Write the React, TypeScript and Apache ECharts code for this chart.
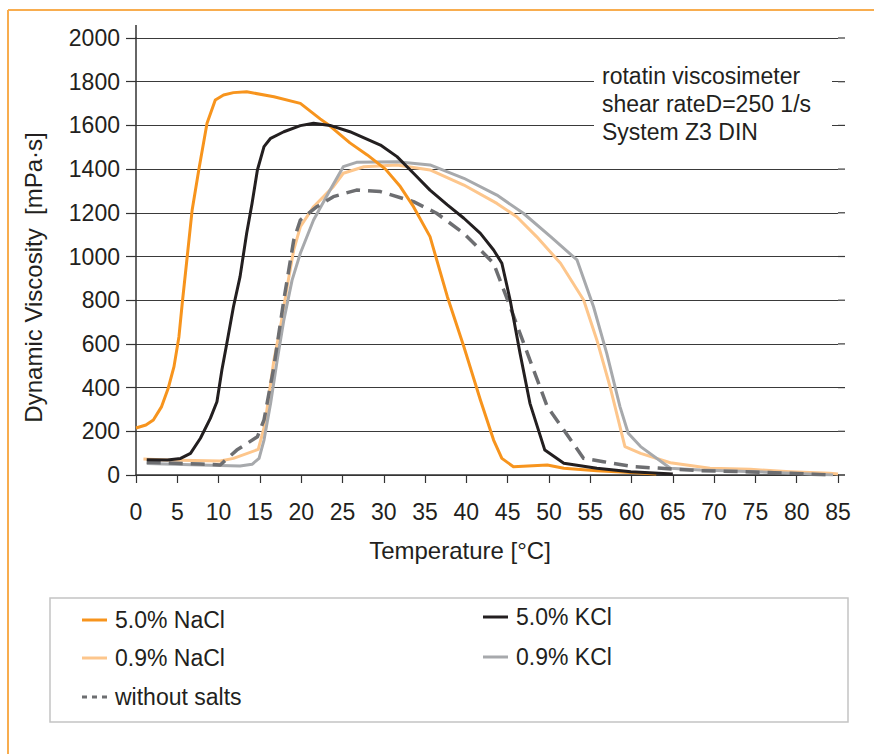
import React, { useEffect, useRef } from "react";
import * as echarts from "echarts";

const xTicks = { min: 0, max: 85, interval: 5 };
const yTicks = { min: 0, max: 2000, interval: 200 };

const seriesNames = ["5.0% NaCl", "0.9% NaCl", "without salts", "5.0% KCl", "0.9% KCl"];

const nacl50: [number, number][] = [
  [0, 215], [1.2, 229], [2.1, 252], [3.1, 313], [3.9, 397], [4.6, 496], [5.2, 633], [5.6, 786],
  [6.2, 999], [6.8, 1213], [7.6, 1396], [8.6, 1610], [9.6, 1716], [10.6, 1739], [11.8, 1750],
  [13.4, 1754], [16.7, 1731], [19.9, 1701], [22.3, 1630], [23.5, 1597], [25.9, 1520], [28, 1465],
  [30.2, 1400], [32, 1320], [33.6, 1228], [35.6, 1091], [37.7, 816], [39.7, 587], [41.7, 343],
  [43.3, 160], [44.3, 76], [45.7, 38], [49.8, 46], [51.8, 31], [55.8, 20], [59.9, 11], [63, 5],
];

const nacl09: [number, number][] = [
  [0.9, 73], [3.8, 69], [10.2, 64], [11.8, 76], [14.8, 117], [15.6, 230], [16.7, 526], [17.5, 679],
  [18.3, 862], [19.1, 1030], [19.9, 1136], [21.5, 1228], [23.9, 1320], [25.1, 1381], [27.6, 1411],
  [31.6, 1419], [35.6, 1396], [39.7, 1327], [43.7, 1243], [46.1, 1182], [48.5, 1091], [51.4, 969],
  [54.2, 801], [55.8, 618], [57.4, 404], [59.2, 130], [61.1, 99], [64.7, 56], [69.5, 31],
  [74.4, 26], [79.2, 15], [84, 8], [85, 5],
];

const noSalt: [number, number][] = [
  [1.3, 58], [7.8, 50], [10.2, 46], [12.2, 114], [14.7, 175], [15.5, 252], [16.7, 496], [17.9, 801],
  [19.1, 1075], [19.9, 1167], [21.9, 1228], [23.9, 1274], [26.7, 1304], [29.6, 1297], [33.6, 1251],
  [36.4, 1198], [39.7, 1106], [43.3, 969], [45.3, 770], [47.7, 526], [49.8, 313], [51.8, 206],
  [54.2, 76], [56.6, 61], [60.3, 38], [68.3, 20], [76.4, 12], [84.4, 0],
];

const kcl50: [number, number][] = [
  [1.3, 70], [3.8, 69], [5.4, 76], [6.6, 99], [7.8, 168], [9.0, 259], [9.8, 335], [10.4, 481],
  [11.0, 603], [11.8, 770], [12.6, 908], [13.4, 1106], [14.05, 1243], [14.7, 1396], [15.5, 1503],
  [16.3, 1541], [17.9, 1571], [19.9, 1599], [21.5, 1610], [23.5, 1600], [25.9, 1571], [29.6, 1510],
  [31.6, 1457], [33.6, 1381], [35.6, 1304], [37.7, 1236], [39.7, 1175], [41.7, 1106], [43.3, 1030],
  [44.3, 969], [45.3, 801], [46.5, 557], [47.7, 328], [49.5, 114], [51.8, 54], [55.8, 31],
  [59.9, 15], [65, 5],
];

const kcl09: [number, number][] = [
  [1.3, 53], [7.8, 46], [12.6, 41], [14.05, 49], [14.9, 76], [15.5, 160], [16.3, 328], [17.1, 526],
  [17.9, 709], [18.9, 892], [19.9, 1015], [21.5, 1167], [23.5, 1304], [25.1, 1411], [26.7, 1431],
  [31.6, 1434], [35.6, 1419], [39.7, 1358], [43.7, 1281], [46.9, 1198], [50.2, 1091], [53.4, 984],
  [55.4, 770], [57.0, 557], [58.6, 313], [59.6, 191], [61.1, 130], [64.7, 31], [68.3, 23],
  [75, 15], [84.4, 0],
];

const yGridValues = [0, 200, 400, 600, 800, 1000, 1200, 1400, 1600, 1800, 2000];

const annotationLines = ["rotatin viscosimeter", "shear rateD=250 1/s", "System Z3 DIN"];

const FONT = "'Liberation Sans', Arial, Helvetica, sans-serif";
const TEXT = "#231f20";

const colors = {
  nacl50: "#f7941d",
  nacl09: "#fdc68c",
  noSalt: "#6d6e71",
  kcl50: "#231f20",
  kcl09: "#a7a9ac",
};

export default function App() {
  const ref = useRef<HTMLDivElement>(null);
  useEffect(() => {
    if (!ref.current) return;
    const chart = echarts.init(ref.current, undefined, { renderer: "svg" });

    const line = (name: string, data: [number, number][], color: string, dashed = false, z = 2) => ({
      name,
      type: "line",
      data,
      showSymbol: false,
      symbol: "none",
      smooth: false,
      z,
      lineStyle: { color, width: dashed ? 3.5 : 3, type: dashed ? [14, 8] : "solid", cap: "butt", join: "round" },
      itemStyle: { color },
    });

    const legendItems = [
      { name: seriesNames[0], color: colors.nacl50, x: 82, y: 620, dashed: false },
      { name: seriesNames[1], color: colors.nacl09, x: 82, y: 658, dashed: false },
      { name: seriesNames[2], color: colors.noSalt, x: 82, y: 697, dashed: true },
      { name: seriesNames[3], color: colors.kcl50, x: 483, y: 617, dashed: false },
      { name: seriesNames[4], color: colors.kcl09, x: 483, y: 657, dashed: false },
    ];

    const baseGraphic: any[] = [
      // frame
      { type: "line", shape: { x1: 8, y1: 10, x2: 874, y2: 10 }, style: { stroke: "#f8ad4f", lineWidth: 2 }, z: 100 },
      { type: "line", shape: { x1: 8, y1: 10, x2: 8, y2: 754 }, style: { stroke: "#f8ad4f", lineWidth: 2 }, z: 100 },
      // legend box
      { type: "rect", shape: { x: 50, y: 598, width: 798, height: 124 }, style: { fill: "none", stroke: "#c4c4c4", lineWidth: 1.5 }, z: 100 },
      ...legendItems.flatMap((it) => [
        {
          type: "line",
          shape: { x1: it.x, y1: it.y, x2: it.x + 25, y2: it.y },
          style: { stroke: it.color, lineWidth: 3, lineDash: it.dashed ? [5, 5] : null },
          z: 101,
        },
        {
          type: "text",
          style: { text: it.name, x: it.x + 33, y: it.y, fill: TEXT, font: `23px ${FONT}`, verticalAlign: "middle" },
          z: 101,
        },
      ]),
    ];

    chart.setOption({
      animation: false,
      backgroundColor: "#ffffff",
      grid: { left: 136, right: 36, top: 38, bottom: 279, containLabel: false },
      xAxis: {
        type: "value",
        min: xTicks.min,
        max: xTicks.max,
        interval: xTicks.interval,
        name: "Temperature [°C]",
        nameLocation: "middle",
        nameGap: 63,
        nameTextStyle: { fontSize: 24, color: TEXT, fontFamily: FONT, padding: [0, 54, 0, 0] },
        axisLine: { show: true, lineStyle: { color: "#333333", width: 1.5 } },
        axisTick: { show: true, inside: false, length: 8, lineStyle: { color: "#333333", width: 1.2 } },
        axisLabel: { fontSize: 23, color: TEXT, fontFamily: FONT, margin: 25, formatter: (v: number) => String(v) },
        splitLine: { show: false },
      },
      yAxis: {
        type: "value",
        min: yTicks.min,
        max: yTicks.max,
        interval: yTicks.interval,
        name: "Dynamic Viscosity  [mPa·s]",
        nameLocation: "middle",
        nameGap: 91,
        nameRotate: 90,
        nameTextStyle: { fontSize: 24, color: TEXT, fontFamily: FONT, padding: [0, 42, 0, 0] },
        axisLine: { show: true, lineStyle: { color: "#333333", width: 1.5 } },
        axisTick: { show: true, inside: false, length: 10, lineStyle: { color: "#333333", width: 1.2 } },
        axisLabel: { fontSize: 23, color: TEXT, fontFamily: FONT, margin: 16, formatter: (v: number) => String(v) },
        splitLine: { show: true, lineStyle: { color: "#3a3a3a", width: 1.2 } },
      },
      series: [
        line(seriesNames[1], nacl09, colors.nacl09, false, 2),
        line(seriesNames[4], kcl09, colors.kcl09, false, 3),
        line(seriesNames[2], noSalt, colors.noSalt, true, 4),
        line(seriesNames[0], nacl50, colors.nacl50, false, 5),
        line(seriesNames[3], kcl50, colors.kcl50, false, 6),
      ],
      graphic: baseGraphic,
    });

    // extend grid lines and axes slightly beyond the plot, as in the original
    const ext: any[] = [];
    const [xr] = chart.convertToPixel({ gridIndex: 0 }, [xTicks.max, 0]) as number[];
    const [xl, yTop] = chart.convertToPixel({ gridIndex: 0 }, [xTicks.min, yTicks.max]) as number[];
    yGridValues.forEach((v) => {
      const p = chart.convertToPixel({ gridIndex: 0 }, [xTicks.max, v]) as number[];
      ext.push({
        type: "line",
        shape: { x1: xr, y1: p[1], x2: xr + 7, y2: p[1] },
        style: { stroke: v === 0 ? "#333333" : "#3a3a3a", lineWidth: v === 0 ? 1.5 : 1.2 },
        z: 50,
      });
    });
    ext.push({
      type: "line",
      shape: { x1: xl, y1: yTop - 13, x2: xl, y2: yTop },
      style: { stroke: "#333333", lineWidth: 1.5 },
      z: 50,
    });
    // annotation with white background masking the grid lines
    ext.push({ type: "rect", shape: { x: 594, y: 58, width: 238, height: 92 }, style: { fill: "#ffffff" }, z: 100 });
    annotationLines.forEach((t, i) =>
      ext.push({
        type: "text",
        style: { text: t, x: 602, y: 76 + i * 28, fill: TEXT, font: `23px ${FONT}`, verticalAlign: "middle" },
        z: 101,
      })
    );
    chart.setOption({ graphic: [...baseGraphic, ...ext] }, { replaceMerge: ["graphic"] });

    return () => chart.dispose();
  }, []);
  return <div ref={ref} style={{ position: "absolute", left: 0, top: 0, width: 874, height: 754 }} />;
}
